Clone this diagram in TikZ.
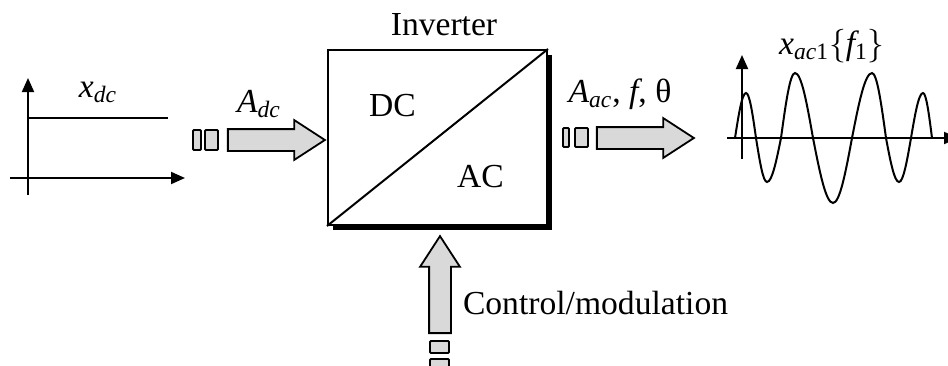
\RequirePackage{fix-cm}
\documentclass[tikz,border=0pt]{standalone}
\usepackage{fontspec}
\setmainfont{Liberation Serif}
\usetikzlibrary{arrows.meta,shapes.arrows,shadows}
\definecolor{arrowgray}{HTML}{D9D9D9}
\begin{document}
\begin{tikzpicture}[x=0.5pt, y=-0.5pt, line width=1pt,
    every node/.style={font=\fontsize{16.8}{20}\selectfont, inner sep=0pt},
    axis/.style={-{Triangle[length=7pt,width=6pt]}},
    fatarrow/.style={single arrow, draw=black, fill=arrowgray, line width=0.9pt,
        inner xsep=0pt, inner ysep=5pt, single arrow head extend=4.5pt,
        single arrow tip angle=66, minimum height=48.5pt},
    gapbox/.style={draw=black, fill=arrowgray, line width=0.9pt,
        rounded corners=0.5pt, minimum height=10pt}]
    \useasboundingbox (0,0) rectangle (948,365);

    % DC signal
    \draw[axis] (28,195) -- (28,78);
    \draw[axis] (10,178) -- (185,178);
    \draw (28,118) -- (168,118);
    \node[anchor=base] (xdc) at (98,97) {$\mathit{x}_{\mathit{dc}}$};

    % DC input arrow
    \node[gapbox, minimum width=4pt] (dcgapa) at (197,140) {};
    \node[gapbox, minimum width=6.5pt] (dcgapb) at (211.5,140) {};
    \node[fatarrow] (dcin) at (268,140) {};
    \node[anchor=base] (adc) at (259,112) {$\mathit{A}_{\mathit{dc}}$};

    % Inverter block
    \node[draw, minimum width=109.5pt, minimum height=87.5pt,
        fill=white, drop shadow={shadow xshift=2.5pt, shadow yshift=-2.5pt,
        fill=black, opacity=1}] (inv) at (437.5,137.5) {};
    \draw (inv.south west) -- (inv.north east);
    \node[anchor=base] (invlabel) at (444,35) {Inverter};
    \node[anchor=base] (dclabel) at (392.5,116) {DC};
    \node[anchor=base] (aclabel) at (480.5,187) {AC};

    % AC output arrow
    \node[gapbox, minimum width=3pt, minimum height=9.5pt] (acgapa) at (566,137.5) {};
    \node[gapbox, minimum width=6.5pt, minimum height=9.5pt] (acgapb) at (581.5,137.5) {};
    \node[fatarrow] (acout) at (637,138) {};
    \node[anchor=base] (aac) at (620,102) {$\mathit{A}_{\mathit{ac}}$, \textit{f}, θ};

    % Control input arrow
    \node[fatarrow, inner xsep=5pt, inner ysep=0pt, shape border rotate=90] (ctrl) at (440,293) {};
    \node[gapbox, minimum width=9.5pt, minimum height=6pt] (ctgapa) at (439.5,347) {};
    \node[gapbox, minimum width=9.5pt, minimum height=6pt] (ctgapb) at (439.5,365) {};
    \node[anchor=base west] (ctrllabel) at (462,314) {Control/modulation};

    % AC signal
    \draw[axis] (742,159) -- (742,55);
    \draw[axis] (727,138) -- (958,138);
    \draw (735,138) sin (746,93) cos (756,138) sin (767,182) cos (781,138)
        sin (795,73) cos (813,138) sin (833,203) cos (852,138)
        sin (872,73) cos (886,138) sin (899,182) cos (911,138)
        sin (923,93) cos (932,138);
    \node[anchor=base] (xac) at (832,54) {$\mathit{x}_{\mathit{ac}\mathrm{1}}\{\mathit{f}_{\mathrm{1}}\}$};
\end{tikzpicture}
\end{document}
